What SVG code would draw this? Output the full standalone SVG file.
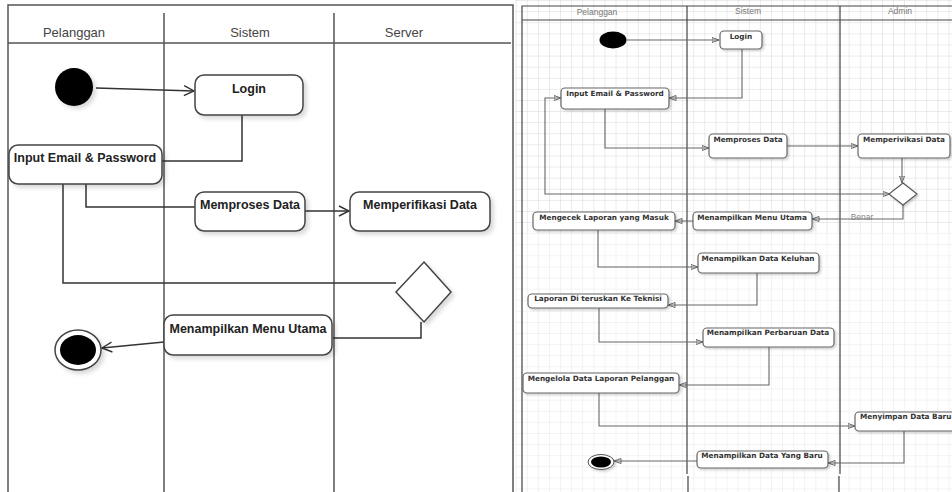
<svg xmlns="http://www.w3.org/2000/svg" width="952" height="492" viewBox="0 0 952 492">
<style>
.lane{fill:none;stroke:#555;stroke-width:1.5}
.hdrL{font-family:"Liberation Sans",Arial,sans-serif;font-size:13px;fill:#444;text-anchor:middle}
.hdrR{font-family:"Liberation Sans",Arial,sans-serif;font-size:8.5px;fill:#777;text-anchor:middle}
.boxL{fill:#fff;stroke:#444;stroke-width:1.5;filter:url(#shL)}
.txtL{font-family:"Liberation Sans",Arial,sans-serif;font-weight:bold;font-size:12.5px;fill:#222;text-anchor:middle}
.boxR{fill:#fff;stroke:#666;stroke-width:1.2;filter:url(#shR)}
.txtR{font-family:"DejaVu Sans",Verdana,sans-serif;font-weight:bold;font-size:7.3px;fill:#333;text-anchor:middle}
.txtRs{font-family:"DejaVu Sans",Verdana,sans-serif;font-weight:bold;font-size:7.3px;fill:#333;text-anchor:start}
.cL{fill:none;stroke:#333;stroke-width:1.5}
.cR{fill:none;stroke:#666;stroke-width:1.1}
.laneR{fill:none;stroke:#444;stroke-width:1.2}
</style>
<defs>
<filter id="shL" x="-10%" y="-20%" width="130%" height="150%"><feDropShadow dx="3" dy="3" stdDeviation="2" flood-color="#000" flood-opacity="0.15"/></filter>
<filter id="shR" x="-10%" y="-20%" width="130%" height="150%"><feDropShadow dx="1.5" dy="1.5" stdDeviation="1" flood-color="#000" flood-opacity="0.2"/></filter>
<marker id="aL" viewBox="0 0 12 12" refX="11" refY="6" markerWidth="12" markerHeight="12" markerUnits="userSpaceOnUse" orient="auto-start-reverse"><path d="M1,1 L11,6 L1,11" fill="none" stroke="#333" stroke-width="1.4"/></marker>
<marker id="aR" viewBox="0 0 8 8" refX="7.5" refY="4" markerWidth="8" markerHeight="8" markerUnits="userSpaceOnUse" orient="auto-start-reverse"><path d="M0.5,1.5 L7.5,4 L0.5,6.5 M0.5,1.5 V6.5" fill="none" stroke="#666" stroke-width="1"/></marker>
<pattern id="gridA" x="6" y="1" width="11.1" height="11.1" patternUnits="userSpaceOnUse"><path d="M11.1,0 V11.1 M0,11.1 H11.1" fill="none" stroke="#d6d6d6" stroke-width="1"/></pattern>
<pattern id="gridB" x="6" y="1" width="11.1" height="11.1" patternUnits="userSpaceOnUse"><path d="M11.1,0 V11.1 M0,11.1 H11.1" fill="none" stroke="#e8e8e8" stroke-width="1"/></pattern>
</defs>
<rect x="0" y="0" width="952" height="492" fill="#fff"/>

<!-- LEFT DIAGRAM: lanes -->
<g id="lanesLeft">
<path class="lane" d="M8,492 V5 H513 V492"/>
<path class="lane" d="M8,43 H511"/>
<path class="lane" d="M164,13 V492 M334,13 V492"/>
<text class="hdrL" x="74" y="37">Pelanggan</text>
<text class="hdrL" x="250" y="37">Sistem</text>
<text class="hdrL" x="404" y="37">Server</text>
</g>

<!-- RIGHT DIAGRAM: grid + lanes -->
<g id="lanesRight">
<rect x="515" y="0" width="437" height="233" fill="url(#gridA)"/>
<rect x="515" y="233" width="437" height="259" fill="url(#gridB)"/>
<path class="laneR" d="M522,492 V6 H952"/>
<path class="laneR" d="M522,20 H952"/>
<path class="laneR" d="M687,6 V474 M840,6 V474"/>
<path class="laneR" d="M688,476 V492 M839,476 V492" stroke="#999"/>
<text class="hdrR" x="597" y="15">Pelanggan</text>
<text class="hdrR" x="748" y="14">Sistem</text>
<text class="hdrR" x="900" y="14">Admin</text>
</g>

<!-- LEFT connectors -->
<g id="connectorsLeft">
<path class="cL" d="M96,88 L194,91" marker-end="url(#aL)"/>
<path class="cL" d="M242,115 V161 H162"/>
<path class="cL" d="M86,184 V207 H195"/>
<path class="cL" d="M305,211 H349" marker-end="url(#aL)"/>
<path class="cL" d="M63,184 V283 H396"/>
<path class="cL" d="M421,322 V338 H333"/>
<path class="cL" d="M164,342 L102,348" marker-end="url(#aL)"/>
</g>

<!-- LEFT nodes -->
<g id="L_start"><circle cx="74" cy="87" r="19" fill="#000" filter="url(#shL)"/></g>
<g id="L_login"><rect class="boxL" x="195" y="75" width="108" height="40" rx="9"/><text class="txtL" x="249" y="93">Login</text></g>
<g id="L_input"><rect class="boxL" x="9" y="145" width="153" height="39" rx="9"/><text class="txtL" x="85" y="162">Input Email &amp; Password</text></g>
<g id="L_memproses"><rect class="boxL" x="195" y="192" width="110" height="39" rx="9"/><text class="txtL" x="250" y="209">Memproses Data</text></g>
<g id="L_memperifikasi"><rect class="boxL" x="350" y="192" width="140" height="39" rx="9"/><text class="txtL" x="420" y="209">Memperifikasi Data</text></g>
<g id="L_decision"><polygon points="424,262 451,292 424,322 396,292" fill="#fff" stroke="#444" stroke-width="1.5" filter="url(#shL)"/></g>
<g id="L_menu"><rect class="boxL" x="164" y="315" width="168" height="40" rx="9"/><text class="txtL" x="248" y="333">Menampilkan Menu Utama</text></g>
<g id="L_end"><ellipse cx="78" cy="350" rx="23" ry="20" fill="#fff" stroke="#444" stroke-width="1.5" filter="url(#shL)"/><ellipse cx="78" cy="350" rx="18" ry="15" fill="#000"/></g>

<!-- RIGHT connectors -->
<g id="connectorsRight">
<path class="cR" d="M627,40 H719" marker-end="url(#aR)"/>
<path class="cR" d="M742,49 V98 H669" marker-end="url(#aR)"/>
<path class="cR" d="M605,109 V148 H709" marker-end="url(#aR)"/>
<path class="cR" d="M787,146 H858" marker-end="url(#aR)"/>
<path class="cR" d="M902,158 V183" marker-end="url(#aR)"/>
<path class="cR" d="M890,194 H545 V98 H561" marker-start="url(#aR)" marker-end="url(#aR)"/>
<path class="cR" d="M903,205 V219 H812" marker-end="url(#aR)"/>
<text x="862" y="220" font-family="Liberation Sans,Arial,sans-serif" font-size="8.5" fill="#888" text-anchor="middle">Benar</text>
<path class="cR" d="M693,221 H675" marker-end="url(#aR)"/>
<path class="cR" d="M598,230 V267 H698" marker-end="url(#aR)"/>
<path class="cR" d="M757,273 V305 H668" marker-end="url(#aR)"/>
<path class="cR" d="M599,308 V342 H703" marker-end="url(#aR)"/>
<path class="cR" d="M769,347 V385 H679" marker-end="url(#aR)"/>
<path class="cR" d="M599,393 V426 H855" marker-end="url(#aR)"/>
<path class="cR" d="M904,431 V463 H828" marker-end="url(#aR)"/>
<path class="cR" d="M697,461 H614" marker-end="url(#aR)"/>
</g>

<!-- RIGHT nodes -->
<g id="R_start"><ellipse cx="613" cy="40" rx="13.5" ry="8.5" fill="#000"/></g>
<g id="R_login"><rect class="boxR" x="720" y="31" width="42" height="18" rx="4"/><text class="txtR" x="741" y="39">Login</text></g>
<g id="R_input"><rect class="boxR" x="561" y="88" width="108" height="21" rx="4"/><text class="txtR" x="615" y="96">Input Email &amp; Password</text></g>
<g id="R_memproses"><rect class="boxR" x="709" y="134" width="78" height="24" rx="4"/><text class="txtR" x="748" y="142">Memproses Data</text></g>
<g id="R_memperivikasi"><rect class="boxR" x="858" y="134" width="92" height="24" rx="4"/><text class="txtR" x="904" y="142">Memperivikasi Data</text></g>
<g id="R_decision"><polygon points="903,183 917,194 903,205 889,194" fill="#fff" stroke="#555" stroke-width="1.1" filter="url(#shR)"/></g>
<g id="R_menu"><rect class="boxR" x="693" y="212" width="119" height="18" rx="4"/><text class="txtR" x="752" y="220">Menampilkan Menu Utama</text></g>
<g id="R_mengecek"><rect class="boxR" x="533" y="212" width="142" height="18" rx="4"/><text class="txtR" x="604" y="220">Mengecek Laporan yang Masuk</text></g>
<g id="R_keluhan"><rect class="boxR" x="698" y="253" width="121" height="20" rx="4"/><text class="txtR" x="758" y="261">Menampilkan Data Keluhan</text></g>
<g id="R_laporan"><rect class="boxR" x="528" y="294" width="140" height="14" rx="4"/><text class="txtR" x="598" y="301">Laporan Di teruskan Ke Teknisi</text></g>
<g id="R_perbaruan"><rect class="boxR" x="703" y="328" width="131" height="19" rx="4"/><text class="txtR" x="768" y="335">Menampilkan Perbaruan Data</text></g>
<g id="R_mengelola"><rect class="boxR" x="523" y="373" width="156" height="20" rx="4"/><text class="txtR" x="601" y="381">Mengelola Data Laporan Pelanggan</text></g>
<g id="R_menyimpan"><rect class="boxR" x="855" y="412" width="110" height="19" rx="4"/><text class="txtRs" x="860" y="419">Menyimpan Data Baru</text></g>
<g id="R_yangbaru"><rect class="boxR" x="697" y="451" width="131" height="17" rx="4"/><text class="txtR" x="762" y="458">Menampilkan Data Yang Baru</text></g>
<g id="R_end"><ellipse cx="601" cy="462" rx="13" ry="7.5" fill="#fff" stroke="#555" stroke-width="1" filter="url(#shR)"/><ellipse cx="601" cy="462" rx="10" ry="5.5" fill="#000"/></g>
</svg>
